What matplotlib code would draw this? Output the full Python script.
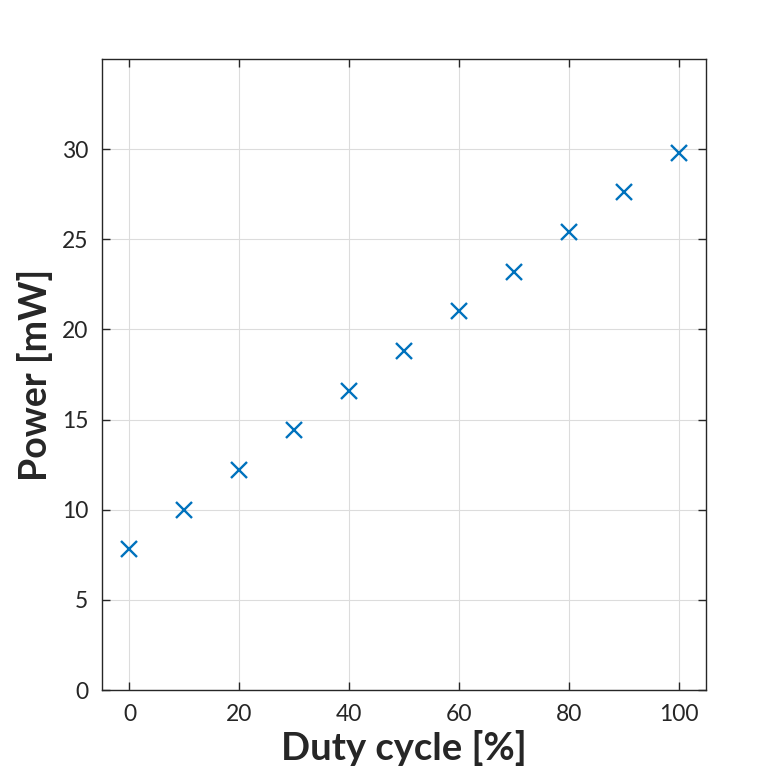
import matplotlib
matplotlib.use('Agg')
import matplotlib.pyplot as plt

duty = [0, 10, 20, 30, 40, 50, 60, 70, 80, 90, 100]
power = [7.8, 10.0, 12.2, 14.4, 16.6, 18.8, 21.0, 23.2, 25.4, 27.6, 29.8]
xticks = [0, 20, 40, 60, 80, 100]
yticks = [0, 5, 10, 15, 20, 25, 30]

plt.rcParams['font.family'] = ['Lato', 'DejaVu Sans']

fig = plt.figure(figsize=(7.81, 7.81), dpi=100)
ax = fig.add_axes([0.1306, 0.1165, 0.7734, 0.808])

ax.plot(duty, power, 'x', color='#0072BD', markersize=11.5, markeredgewidth=1.7)

ax.set_xlim(-5, 105)
ax.set_ylim(0, 35)
ax.set_xticks(xticks)
ax.set_yticks(yticks)
ax.grid(True, color='#dcdcdc', linewidth=0.8)
ax.set_axisbelow(True)
ax.tick_params(direction='in', top=True, right=True, length=6, width=1,
               labelsize=16.5, colors='#262626', pad=10)
for s in ax.spines.values():
    s.set_color('#262626')
    s.set_linewidth(1.0)

ax.set_xlabel('Duty cycle [%]', fontsize=27.5, fontweight='bold', color='#262626', labelpad=4)
ax.set_ylabel('Power [mW]', fontsize=27, fontweight='bold', color='#262626', labelpad=6)

fig.savefig('out.png', dpi=100)
